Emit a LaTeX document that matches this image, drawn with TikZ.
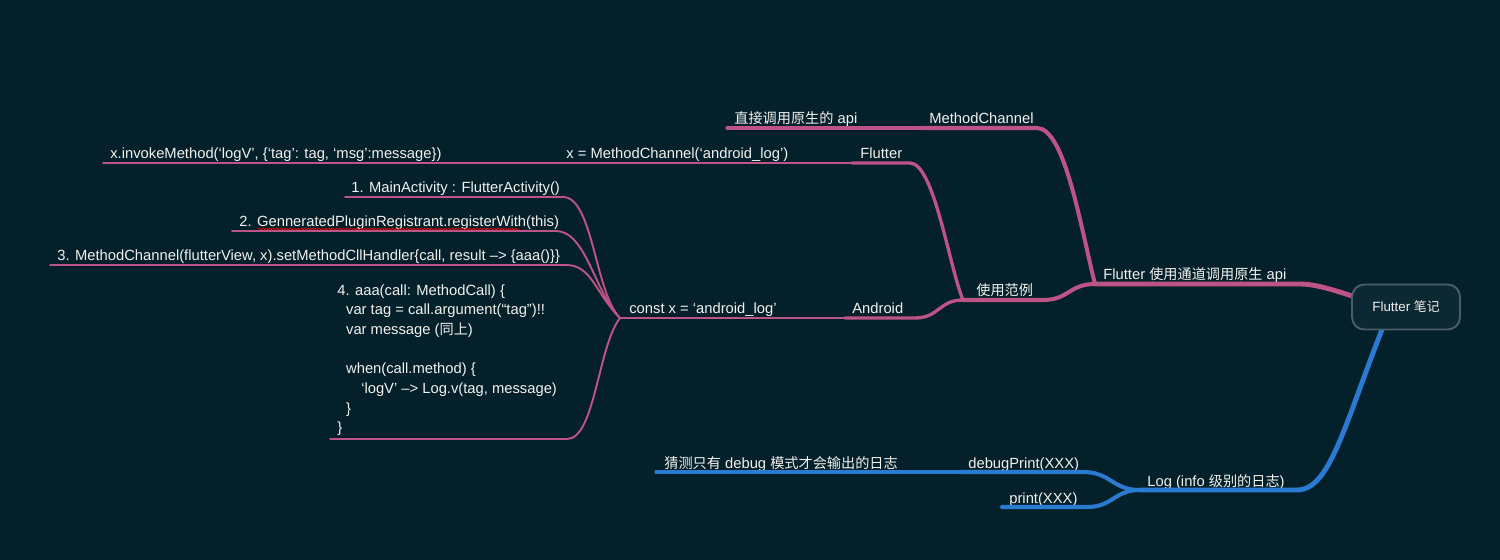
\documentclass[tikz,border=0pt]{standalone}
\usepackage{fontspec}
\setmainfont{Liberation Sans}
\newfontfamily\cjk[Scale=0.96]{Noto Sans CJK SC}
\usetikzlibrary{decorations.pathmorphing}
\definecolor{bgc}{HTML}{04202A}
\definecolor{pinkc}{HTML}{BD5386}
\definecolor{bluec}{HTML}{2A7AD2}
\definecolor{txtc}{HTML}{F2F2EE}
\definecolor{rootfill}{HTML}{0C2832}
\definecolor{rootline}{HTML}{4B5E66}

\begin{document}
\begin{tikzpicture}[x=0.02cm,y=0.02cm,
  lbl/.style={text=txtc,inner sep=0pt,anchor=base west,font=\fontsize{8.4pt}{11.2pt}\selectfont},
  pk/.style={draw=pinkc,line cap=round},
  bl/.style={draw=bluec,line cap=round},
  lA/.style={line width=2.8pt},
  lB/.style={line width=2.3pt},
  lC/.style={line width=1.9pt},
  lD/.style={line width=1.6pt},
  lE/.style={line width=1.1pt}]
\fill[bgc] (0,0) rectangle (1500,-560);
\useasboundingbox (0,0) rectangle (1500,-560);
\coordinate (rootc) at (1406,-307);
\coordinate (rootb) at (1391,-307);

% pink side
\node[lbl] (main) at (1103,-280) {Flutter {\cjk 使用通道调用原生} api};
\coordinate (main-l) at (1095,-284); \coordinate (main-r) at (1300,-284);
\node[lbl] (mch) at (929,-124) {MethodChannel};
\coordinate (mch-l) at (922,-128); \coordinate (mch-r) at (1037,-128);
\node[lbl] (api) at (734,-124) {{\cjk 直接调用原生的} api};
\coordinate (api-l) at (727,-128);
\node[lbl] (demo) at (976,-296) {\cjk 使用范例};
\coordinate (demo-l) at (963,-300); \coordinate (demo-r) at (1043,-300);
\node[lbl] (flt) at (860,-159) {Flutter};
\coordinate (flt-l) at (852,-163); \coordinate (flt-r) at (910,-163);
\node[lbl] (chan) at (566,-159) {x = MethodChannel(‘android\_log’)};
\coordinate (chan-l) at (558,-163);
\node[lbl] (inv) at (110,-159) {x.invokeMethod(‘logV’, \{‘tag’: tag, ‘msg’:message\})};
\coordinate (inv-l) at (103,-163);
\node[lbl] (andr) at (852,-314) {Android};
\coordinate (andr-l) at (845,-318); \coordinate (andr-r) at (915,-318);
\node[lbl] (cst) at (629,-314) {const x = ‘android\_log’};
\coordinate (cst-l) at (620,-318);
\node[lbl] (s1) at (351,-193) {1. MainActivity : FlutterActivity()};
\coordinate (s1-l) at (345,-197); \coordinate (s1-r) at (563,-197);
\node[lbl] (s2) at (239,-227) {2. GenneratedPluginRegistrant.registerWith(this)};
\coordinate (s2-l) at (232,-231); \coordinate (s2-r) at (556,-231);
\node[lbl] (s3) at (57,-261) {3. MethodChannel(flutterView, x).setMethodCllHandler\{call, result –> \{aaa()\}\}};
\coordinate (s3-l) at (50,-265); \coordinate (s3-r) at (566,-265);
\node[lbl,anchor=north west,align=left] (s4) at (337,-284) {4. aaa(call: MethodCall) \{\\
\hspace*{5pt}var tag = call.argument(“tag”)!!\\
\hspace*{5pt}var message ({\cjk 同上})\\
~\\
\hspace*{5pt}when(call.method) \{\\
\hspace*{13.6pt}‘logV’ –> Log.v(tag, message)\\
\hspace*{5pt}\}\\
\}};
\coordinate (s4-l) at (330,-439); \coordinate (s4-r) at (567,-439);

\draw[pk,lA] (main-l) -- (main-r) .. controls +(30,0) and +(-36,0) .. (rootc);
\draw[pk,lB] (mch-l) -- (mch-r) .. controls +(28,0) and +(-14,55) .. (main-l);
\draw[pk,lC] (api-l) -- (mch-l);
\draw[pk,lB] (demo-l) -- (demo-r) .. controls +(26,0) and +(-26,0) .. (main-l);
\draw[pk,lC] (flt-l) -- (flt-r) .. controls +(24,0) and +(-14,34) .. (demo-l);
\draw[pk,lD] (chan-l) -- (flt-l);
\draw[pk,lE] (inv-l) -- (chan-l);
\draw[pk,lC] (andr-l) -- (andr-r) .. controls +(24,0) and +(-24,0) .. (demo-l);
\draw[pk,lD] (cst-l) -- (andr-l);
\draw[pk,lE] (s1-l) -- (s1-r) .. controls +(30,0) and +(-25,25) .. (cst-l);
\draw[pk,lE] (s2-l) -- (s2-r) .. controls +(30,0) and +(-25,25) .. (cst-l);
\draw[pk,lE] (s3-l) -- (s3-r) .. controls +(26,0) and +(-25,25) .. (cst-l);
\draw[pk,lE] (s4-l) -- (s4-r) .. controls +(28,0) and +(-22,-28) .. (cst-l);
% spell-check squiggle
\draw[red,line width=0.4pt,decorate,decoration={snake,amplitude=0.4pt,segment length=2pt}] (258,-229) -- (520,-229);

% blue side
\node[lbl] (log) at (1147,-486) {Log (info {\cjk 级别的日志})};
\coordinate (log-l) at (1140,-490); \coordinate (log-r) at (1297,-490);
\node[lbl] (dbg) at (968,-468) {debugPrint(XXX)};
\coordinate (dbg-l) at (960,-472); \coordinate (dbg-r) at (1083,-472);
\node[lbl] (gss) at (664,-468) {{\cjk 猜测只有} debug {\cjk 模式才会输出的日志}};
\coordinate (gss-l) at (656,-472);
\node[lbl] (prt) at (1009,-503) {print(XXX)};
\coordinate (prt-l) at (1002,-507); \coordinate (prt-r) at (1087,-507);

\draw[bl,lA] (log-l) -- (log-r) .. controls +(35,0) and +(-45,-110) .. (rootb);
\draw[bl,lB] (dbg-l) -- (dbg-r) .. controls +(28,0) and +(-28,0) .. (log-l);
\draw[bl,lC] (gss-l) -- (dbg-l);
\draw[bl,lB] (prt-l) -- (prt-r) .. controls +(26,0) and +(-26,0) .. (log-l);

\node[lbl,anchor=center,draw=rootline,fill=rootfill,line width=1.1pt,rounded corners=7pt,
  minimum width=2.16cm,minimum height=0.9cm,font=\fontsize{7.6pt}{9pt}\selectfont] (root) at (rootc) {Flutter {\cjk 笔记}};
\end{tikzpicture}
\end{document}
